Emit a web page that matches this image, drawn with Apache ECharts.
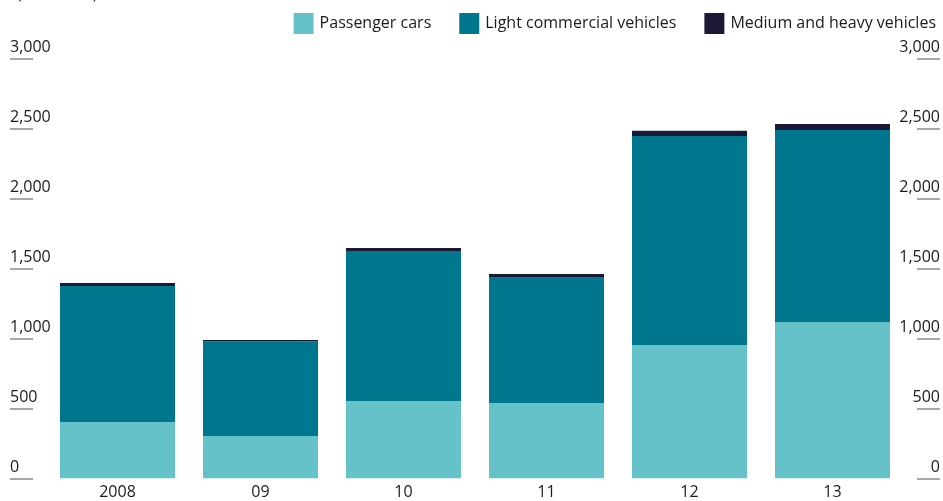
<!DOCTYPE html>
<html>
<head>
<meta charset="utf-8">
<script src="https://cdn.jsdelivr.net/npm/echarts@6/dist/echarts.min.js"></script>
<style>
  html, body { margin: 0; padding: 0; background: #fff; }
  #chartSales { width: 943px; height: 501px; }
</style>
</head>
<body>
<div id="chartSales"></div>
<script>
// 数据
var years = ['2008', '09', '10', '11', '12', '13'];
var passengerCars = [402, 302, 552, 538, 952, 1116];
var lightCommercial = [972, 677, 1072, 900, 1493, 1372];
var mediumHeavy = [21, 9, 21, 21, 38, 43];
var yTicks = [0, 500, 1000, 1500, 2000, 2500, 3000];

var fontName = 'Open Sans';

// 两侧刻度轴，刻度线画在标签下方
function sideAxis(side) {
  return {
    type: 'value',
    position: side,
    offset: 13,
    min: yTicks[0],
    max: yTicks[yTicks.length - 1],
    interval: yTicks[1] - yTicks[0],
    axisLine: { show: false },
    axisTick: {
      show: true,
      length: 23,
      lineStyle: { color: '#8c8c8c', width: 1.5 }
    },
    splitLine: { show: false },
    axisLabel: {
      margin: 23,
      align: side === 'left' ? 'left' : 'right',
      verticalAlign: 'bottom',
      padding: [0, 0, 3, 0],
      color: '#1a1a1a',
      fontFamily: fontName,
      fontSize: 16,
      formatter: function (v) { return v.toLocaleString('en-US'); }
    }
  };
}

var chartSales = echarts.init(document.getElementById('chartSales'));
var option = {
  animation: false,
  textStyle: { fontFamily: fontName },
  title: {
    text: '(thousand)',
    left: 12,
    top: -19,
    textStyle: { fontFamily: fontName, fontSize: 16, fontWeight: 'normal', color: '#1a1a1a' }
  },
  legend: {
    right: 2,
    top: 8,
    icon: 'rect',
    itemWidth: 20,
    itemHeight: 21,
    itemGap: 28,
    textStyle: { fontFamily: fontName, fontSize: 16, color: '#1a1a1a', padding: [0, 0, 0, 1] },
    data: ['Passenger cars', 'Light commercial vehicles', 'Medium and heavy vehicles']
  },
  grid: { left: 46, right: 39, top: 58.3, bottom: 22.7, containLabel: false },
  xAxis: {
    type: 'category',
    data: years,
    axisLine: { show: false },
    axisTick: { show: false },
    axisLabel: { margin: 6, color: '#1a1a1a', fontFamily: fontName, fontSize: 16 }
  },
  yAxis: [sideAxis('left'), sideAxis('right')],
  series: [
    {
      name: 'Passenger cars',
      type: 'bar',
      stack: 'total',
      barWidth: 115,
      itemStyle: { color: '#66c2c9' },
      data: passengerCars
    },
    {
      name: 'Light commercial vehicles',
      type: 'bar',
      stack: 'total',
      barWidth: 115,
      itemStyle: { color: '#00778f' },
      data: lightCommercial
    },
    {
      name: 'Medium and heavy vehicles',
      type: 'bar',
      stack: 'total',
      barWidth: 115,
      itemStyle: { color: '#1c1937' },
      data: mediumHeavy
    }
  ]
};
chartSales.setOption(option);
</script>
</body>
</html>
